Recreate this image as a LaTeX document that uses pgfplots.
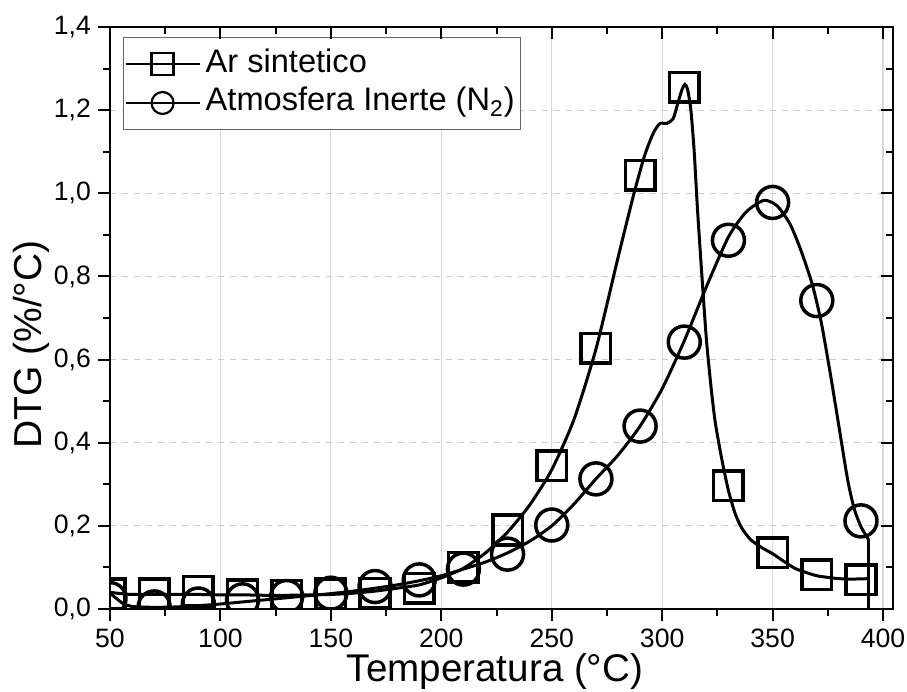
\documentclass[border=0pt]{standalone}
\usepackage{fontspec}
\setmainfont{Liberation Sans}
\usepackage{pgfplots}
\pgfplotsset{compat=1.18}
\usepackage{pgfplotstable}

\pgfplotsset{mylegimg/.style={legend image code/.code={\draw[mark repeat=2,mark phase=2,##1] plot coordinates {(0pt,0pt)(18.5pt,0pt)(37pt,0pt)};}}}

% Ar sintetico: continuous curve
\pgfplotstableread{
T v
50 0.040
55 0.037
60 0.035
70 0.035
80 0.035
90 0.035
100 0.034
110 0.034
120 0.033
130 0.033
140 0.034
150 0.035
160 0.038
170 0.043
180 0.050
190 0.058
200 0.075
210 0.098
220 0.135
230 0.185
240 0.250
250 0.335
260 0.455
270 0.625
280 0.845
287 0.995
292 1.090
296 1.145
299 1.168
302 1.168
305 1.180
307 1.215
309 1.250
310.3 1.262
311.5 1.250
313 1.200
314.5 1.100
316 0.960
318 0.800
320 0.650
322 0.540
324 0.450
327 0.360
330 0.285
333 0.230
336 0.195
340 0.167
345 0.148
350 0.133
355 0.115
360 0.098
365 0.088
370 0.080
375 0.076
380 0.073
386 0.072
393.5 0.073
}\arline

% Ar sintetico: markers
\pgfplotstableread{
T v
50 0.037
70 0.037
90 0.043
110 0.034
130 0.033
150 0.036
170 0.038
190 0.050
210 0.100
230 0.190
250 0.345
270 0.627
290 1.043
310 1.255
330 0.296
350 0.135
370 0.082
390 0.070
}\armk

% Atmosfera inerte (N2): continuous curve
\pgfplotstableread{
T v
50 0.038
53 0.025
56 0.013
60 0.006
70 0.004
80 0.005
90 0.008
100 0.012
110 0.017
120 0.022
130 0.027
140 0.032
150 0.037
160 0.043
170 0.050
180 0.058
190 0.068
200 0.080
210 0.096
220 0.113
230 0.135
240 0.163
250 0.200
260 0.252
270 0.313
280 0.370
290 0.440
300 0.530
310 0.645
320 0.775
330 0.895
338 0.955
346 0.983
352 0.970
358 0.925
363 0.860
368 0.780
372 0.690
376 0.570
380 0.440
384 0.310
387 0.240
390 0.198
393.5 0.166
}\ntline

% Atmosfera inerte (N2): markers
\pgfplotstableread{
T v
50 0.025
70 0.005
90 0.012
110 0.022
130 0.030
150 0.038
170 0.054
190 0.070
210 0.096
230 0.132
250 0.202
270 0.313
290 0.440
310 0.642
330 0.887
350 0.978
370 0.742
390 0.212
}\ntmk

\begin{document}
\begin{tikzpicture}
\useasboundingbox (-55pt,-41.5pt) rectangle (398.5pt,304.5pt);
\begin{axis}[
  scale only axis, width=391.5pt, height=291pt,
  at={(0pt,0pt)}, anchor=south west,
  xmin=50, xmax=404.5, ymin=0, ymax=1.4,
  xtick={50,100,150,200,250,300,350,400},
  ytick={0,0.2,0.4,0.6,0.8,1.0,1.2,1.4},
  minor x tick num=1, minor y tick num=1,
  xtick pos=left, ytick pos=left, tick align=outside,
  major tick length=6pt, minor tick length=3.5pt,
  every tick/.style={black, line width=1pt},
  axis line style={line width=1pt},
  grid=major,
  major x grid style={gray!30, line width=0.6pt},
  major y grid style={gray!40, dashed, line width=0.6pt},
  clip marker paths=true,
  /pgf/number format/assume math mode=true,
  xticklabel style={font=\fontsize{13.3}{16}\selectfont, yshift=-0.5pt},
  yticklabel style={font=\fontsize{13.3}{16}\selectfont,
    /pgf/number format/.cd, fixed, fixed zerofill, precision=1, use comma},
  xlabel={Temperatura (°C)},
  ylabel={DTG (\%/°C)},
  xlabel style={font=\fontsize{19.3}{23}\selectfont,
    at={(axis description cs:0.4917,-0.1254)}, anchor=base},
  ylabel style={font=\fontsize{19.5}{23}\selectfont,
    at={(axis description cs:-0.1009,0.4545)}, anchor=center},
  legend cell align=left,
  legend style={at={(axis description cs:0,1)}, anchor=north west,
    xshift=6.5pt, yshift=-5pt, draw=black!60, line width=0.5pt,
    font=\fontsize{16.3}{19}\selectfont,
    inner xsep=0.5pt, inner ysep=3.5pt, row sep=0pt,
    nodes={inner xsep=2.5pt, inner ysep=1.75pt, text height=12pt, text depth=4pt}},
]
\addplot[black, line width=1.5pt, smooth, tension=0.4, forget plot] table[x=T,y=v]{\arline};
\addplot[black, line width=1.5pt, forget plot] coordinates {(393.5,0.073) (393.5,0)};
\addplot[black, line width=1.5pt, smooth, tension=0.4, forget plot] table[x=T,y=v]{\ntline};
\addplot[black, line width=1.5pt, forget plot] coordinates {(393.5,0.166) (393.5,0.073)};
\addplot[black, only marks, mark=square, mark size=7.4pt, mark options={line width=1.75pt, solid}, forget plot] table[x=T,y=v]{\armk};
\addplot[black, only marks, mark=o, mark size=8pt, mark options={line width=1.75pt, solid}, forget plot] table[x=T,y=v]{\ntmk};
\addlegendimage{mylegimg, black, line width=1.1pt, mark=square, mark size=5.5pt, mark options={solid, line width=1.1pt}}
\addlegendentry{Ar sintetico}
\addlegendimage{mylegimg, black, line width=1.1pt, mark=o, mark size=5.5pt, mark options={solid, line width=1.1pt}}
\addlegendentry{Atmosfera Inerte (N\textsubscript{2})}
\end{axis}
\begin{axis}[
  scale only axis, width=391.5pt, height=291pt,
  at={(0pt,0pt)}, anchor=south west,
  xmin=50, xmax=404.5, ymin=0, ymax=1.4,
  xtick={50,100,150,200,250,300,350,400},
  ytick={0,0.2,0.4,0.6,0.8,1.0,1.2,1.4},
  minor x tick num=1, minor y tick num=1,
  xtick pos=right, ytick pos=right, tick align=inside,
  major tick length=6pt, minor tick length=3.5pt,
  every tick/.style={black, line width=1pt},
  axis line style={line width=1pt},
  xticklabels={}, yticklabels={},
]
\end{axis}
\end{tikzpicture}
\end{document}
